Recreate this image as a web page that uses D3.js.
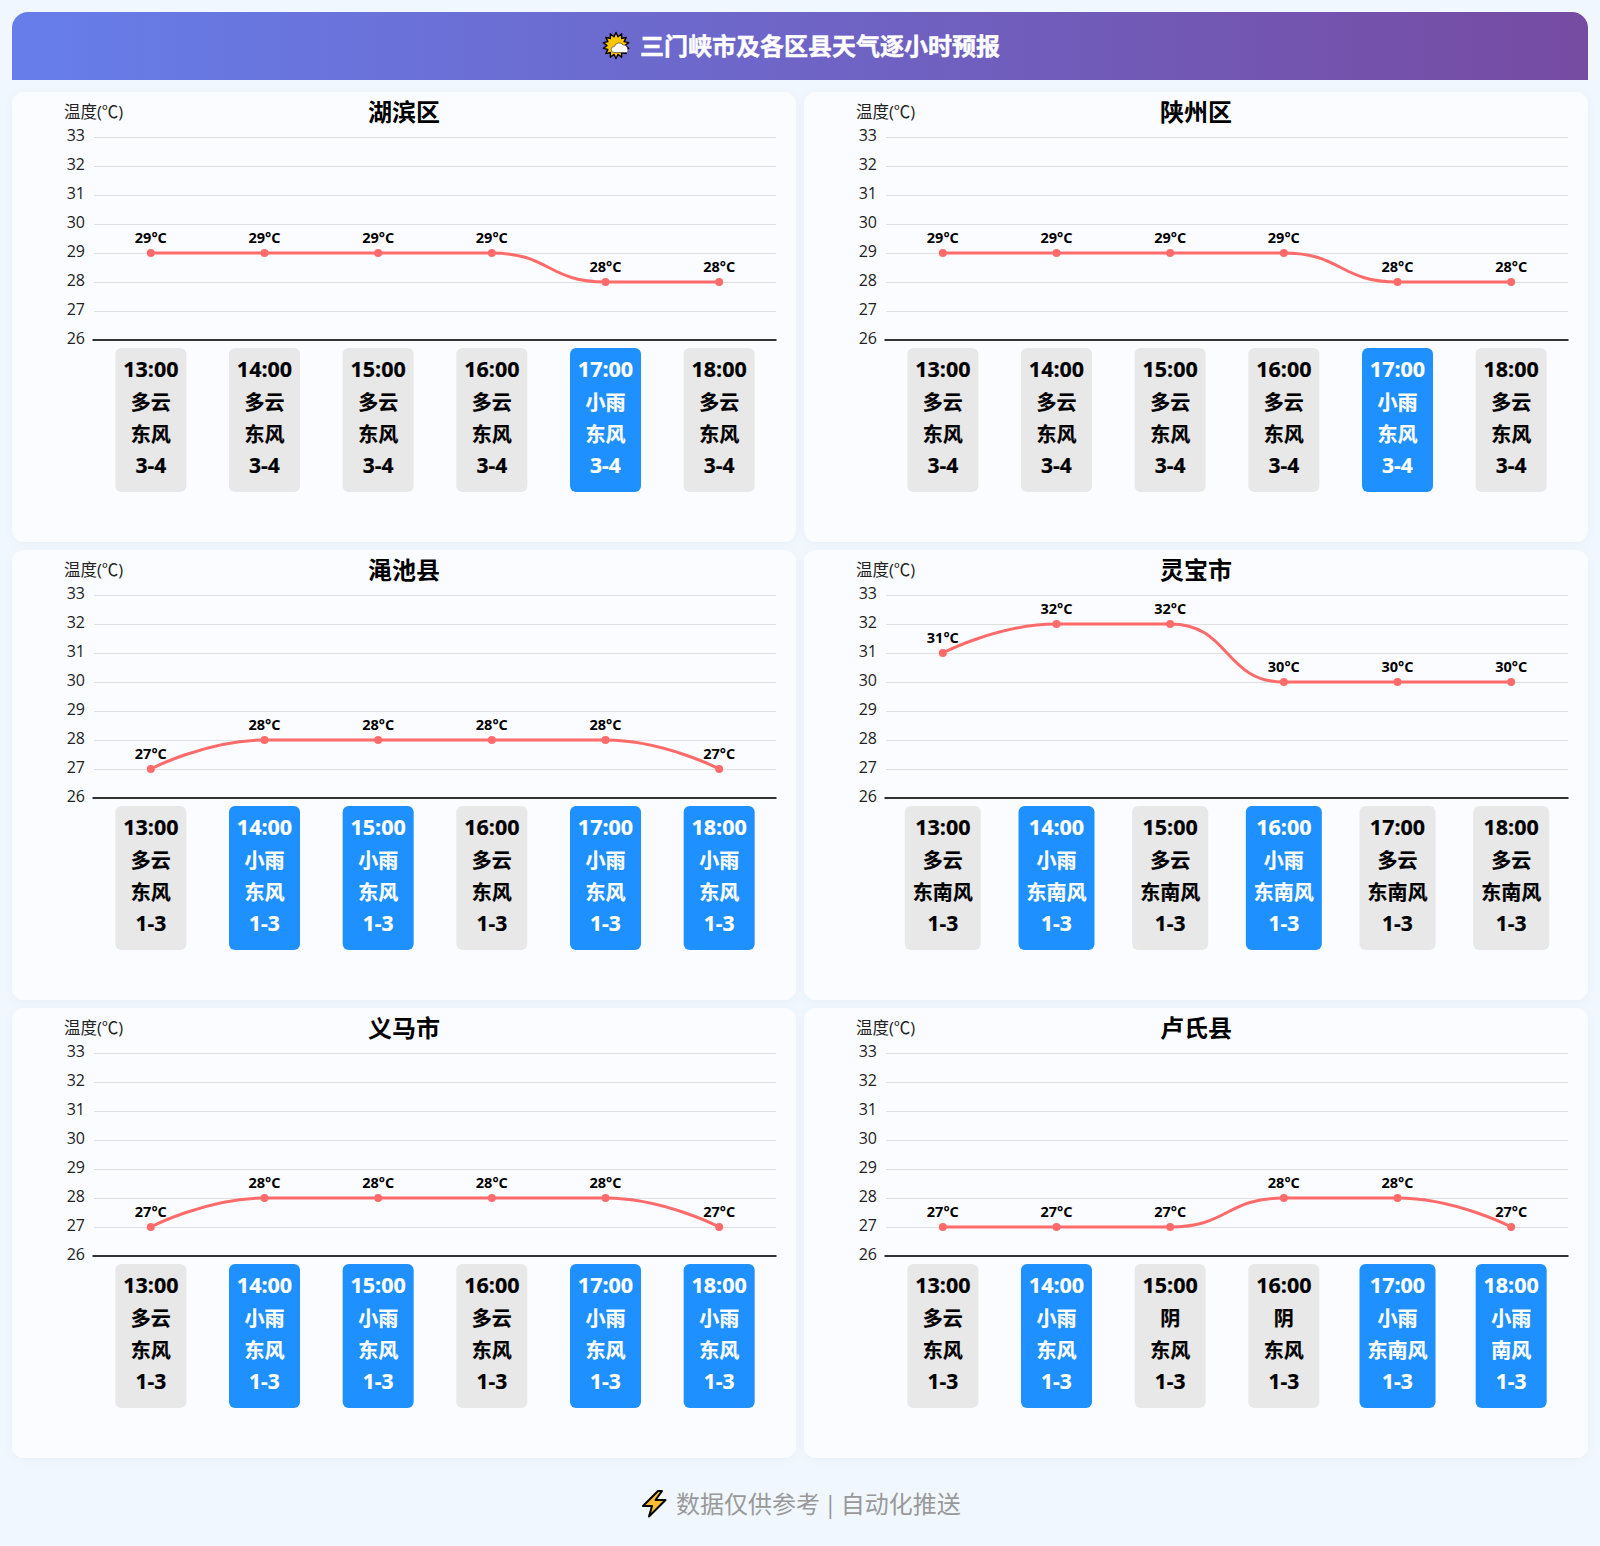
<!DOCTYPE html>
<html><head><meta charset="utf-8">
<script src="https://cdnjs.cloudflare.com/ajax/libs/d3/7.8.5/d3.min.js"></script>
<style>
html,body{margin:0;padding:0;background:#f0f7ff}
svg{display:block}
text{font-family:"Open Sans","Noto Sans CJK SC",sans-serif}
</style></head><body><div id="chart"></div>
<script>
const pageTitle="三门峡市及各区县天气逐小时预报";
const footerText="数据仅供参考 | 自动化推送";
const yName="温度(℃)";
const hours=["13:00","14:00","15:00","16:00","17:00","18:00"];
const yTicks=[26,27,28,29,30,31,32,33];
const districts=["湖滨区","陕州区","渑池县","灵宝市","义马市","卢氏县"];
const temps=[
 [29,29,29,29,28,28],
 [29,29,29,29,28,28],
 [27,28,28,28,28,27],
 [31,32,32,30,30,30],
 [27,28,28,28,28,27],
 [27,27,27,28,28,27]];
const weather=[
 ["多云","多云","多云","多云","小雨","多云"],
 ["多云","多云","多云","多云","小雨","多云"],
 ["多云","小雨","小雨","多云","小雨","小雨"],
 ["多云","小雨","多云","小雨","多云","多云"],
 ["多云","小雨","小雨","多云","小雨","小雨"],
 ["多云","小雨","阴","阴","小雨","小雨"]];
const windDir=[
 ["东风","东风","东风","东风","东风","东风"],
 ["东风","东风","东风","东风","东风","东风"],
 ["东风","东风","东风","东风","东风","东风"],
 ["东南风","东南风","东南风","东南风","东南风","东南风"],
 ["东风","东风","东风","东风","东风","东风"],
 ["东风","东风","东风","东风","东南风","南风"]];
const windLevel=["3-4","3-4","1-3","1-3","1-3","1-3"];

// Smoothing as in a 0.5 tension chart spline, with extreme clamping
function smoothCurve(ctx){
  let pts=[];
  return {
    areaStart(){},areaEnd(){},
    lineStart(){pts=[];},
    point(x,y){pts.push([+x,+y]);},
    lineEnd(){
      const s=0.5,cl=(v,a,b)=>Math.max(Math.min(v,Math.max(a,b)),Math.min(a,b));
      let cx=pts[0][0],cy=pts[0][1];
      ctx.moveTo(cx,cy);
      for(let i=1;i<pts.length;i++){
        const [x,y]=pts[i],[px,py]=pts[i-1];
        if(i===pts.length-1){ctx.bezierCurveTo(cx,cy,x,y,x,y);break;}
        const [nx,ny]=pts[i+1];
        const l0=Math.hypot(x-px,y-py),l1=Math.hypot(nx-x,ny-y),r=l1/(l0+l1);
        let vx=nx-px,vy=ny-py;
        let c1x=cl(x+vx*s*r,nx,x),c1y=cl(y+vy*s*r,ny,y);
        vx=c1x-x;vy=c1y-y;
        let c0x=cl(x-vx*l0/l1,px,x),c0y=cl(y-vy*l0/l1,py,y);
        vx=x-c0x;vy=y-c0y;
        c1x=x+vx*l1/l0;c1y=y+vy*l1/l0;
        ctx.bezierCurveTo(cx,cy,c0x,c0y,x,y);
        cx=c1x;cy=c1y;
      }
    }
  };
}

const svg=d3.select("#chart").append("svg").attr("width",1600).attr("height",1546);
const defs=svg.append("defs");
const grad=defs.append("linearGradient").attr("id","hdr").attr("gradientUnits","userSpaceOnUse")
  .attr("x1",12).attr("y1",46).attr("x2",1588).attr("y2",46);
grad.append("stop").attr("offset",0).attr("stop-color","#667eea");
grad.append("stop").attr("offset",1).attr("stop-color","#764ba2");
const sh=defs.append("filter").attr("id","sh").attr("x","-5%").attr("y","-5%").attr("width","110%").attr("height","110%");
sh.append("feDropShadow").attr("dx",0).attr("dy",2).attr("stdDeviation",4).attr("flood-color","#000").attr("flood-opacity",0.03);

// Header
svg.append("path").attr("fill","url(#hdr)")
 .attr("d","M12,80V28A16,16 0 0 1 28,12H1572A16,16 0 0 1 1588,28V80Z");
svg.append("text").attr("x",640).attr("y",46).attr("dy","0.36em").attr("fill","#fff")
 .attr("stroke","#fff").attr("stroke-width",0.45)
 .attr("font-size",24).attr("font-weight",700).text(pageTitle);

// Sun-behind-cloud icon
const icon=svg.append("g").attr("transform","translate(616,45.5)");
const spikes=d3.range(28).map(i=>[i*Math.PI/14,i%2?9:13]);
icon.append("path").attr("d",d3.lineRadial().curve(d3.curveLinearClosed)(spikes))
 .attr("fill","#fdc500").attr("stroke","#000").attr("stroke-width",1.4).attr("stroke-linejoin","round");
icon.append("path").attr("d","M-2,7a3,3 0 0 1 0.5,-6a4.8,4.8 0 0 1 8.6,-1.5a4,4 0 0 1 4.4,4a2.2,2.2 0 0 1 -1,3.5Z")
 .attr("fill","#fff").attr("stroke","#333").attr("stroke-width",0.6);

// Footer
const bolt=svg.append("g").attr("transform","translate(654,1504)");
bolt.append("path").attr("d","M4,-13L-11,2H-2L-5,12.5L11.5,-4H1.5L8,-13Z")
 .attr("fill","#fdbd2f").attr("stroke","#000").attr("stroke-width",2).attr("stroke-linejoin","round");
svg.append("text").attr("x",676).attr("y",1504).attr("dy","0.36em").attr("fill","#999")
 .attr("word-spacing",-2.5).attr("font-size",24).text(footerText);

// Cards
const cardW=784,cardH=450;
districts.forEach((name,ci)=>{
  const g=svg.append("g").attr("transform",`translate(${12+(ci%2)*792},${92+Math.floor(ci/2)*458})`);
  g.append("rect").attr("width",cardW).attr("height",cardH).attr("rx",12).attr("fill","#fbfcff").attr("filter","url(#sh)");
  const x=d3.scaleBand().domain(hours).range([82,764]);
  const y=d3.scaleLinear().domain([26,33]).range([248,45]);
  const cx=h=>x(h)+x.bandwidth()/2;

  const yAxis=g.append("g").attr("transform","translate(82,0)")
    .call(d3.axisLeft(y).tickValues(yTicks).tickSize(-682).tickPadding(9).tickFormat(d3.format("d")));
  yAxis.select(".domain").remove();
  yAxis.selectAll(".tick line").attr("stroke",d=>d===26?"none":"#e0e0e0");
  yAxis.selectAll(".tick text").attr("font-size",16).attr("fill","#222").attr("dy","0.22em");

  g.append("g").attr("transform","translate(-1,247.5)")
    .call(d3.axisBottom(x).tickSize(0).tickFormat(""))
    .call(a=>a.select(".domain").attr("stroke","#333").attr("stroke-width",2).attr("stroke-linecap","square"));

  g.append("text").attr("x",52).attr("y",20).attr("dy","0.36em").attr("font-size",16.5).attr("fill","#222").text(yName);
  g.append("text").attr("x",cardW/2).attr("y",20).attr("dy","0.36em").attr("text-anchor","middle")
    .attr("font-size",24).attr("font-weight",700).attr("fill","#000").text(name);

  const data=hours.map((h,i)=>({h,t:temps[ci][i],w:weather[ci][i],d:windDir[ci][i],l:windLevel[ci]}));
  const line=d3.line().x(d=>cx(d.h)).y(d=>y(d.t)).curve(smoothCurve);
  g.append("path").attr("d",line(data)).attr("fill","none").attr("stroke","#ff6b6b").attr("stroke-width",3);
  g.selectAll("circle.pt").data(data).join("circle").attr("class","pt")
    .attr("cx",d=>cx(d.h)).attr("cy",d=>y(d.t)).attr("r",4).attr("fill","#ff6b6b");
  g.selectAll("text.val").data(data).join("text").attr("class","val")
    .attr("x",d=>cx(d.h)).attr("y",d=>y(d.t)-10.5).attr("text-anchor","middle")
    .attr("font-size",14.5).attr("font-weight",700).attr("fill","#000").text(d=>d.t+"°C");

  const cell=g.selectAll("g.cell").data(data).join("g").attr("class","cell")
    .attr("transform",d=>`translate(${cx(d.h)},256)`);
  cell.append("rect")
    .attr("x",d=>-(d.d.length>2?38:35.5)).attr("width",d=>d.d.length>2?76:71)
    .attr("y",0).attr("height",144).attr("rx",6)
    .attr("fill",d=>d.w==="小雨"?"#1e90ff":"#e8e8e8");
  const rows=[d=>d.h,d=>d.w,d=>d.d,d=>d.l];
  const rowY=[21,54.5,86.5,117.5];
  rows.forEach((f,ri)=>{
    cell.append("text").attr("text-anchor","middle").attr("y",rowY[ri]).attr("dy","0.36em")
      .attr("font-size",ri===0?21.5:(ri===3?21:20)).attr("font-weight",700)
      .attr("stroke",d=>d.w==="小雨"?"#fff":"#000").attr("stroke-width",0.2)
      .attr("fill",d=>d.w==="小雨"?"#fff":"#000").text(f);
  });
});
</script></body></html>
